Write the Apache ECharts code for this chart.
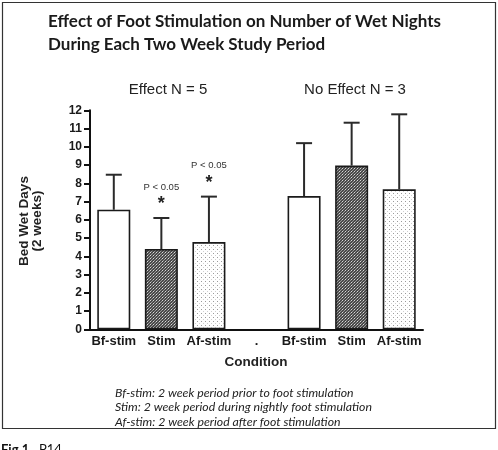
<!DOCTYPE html>
<html><head><meta charset="utf-8">
<script src="https://cdn.jsdelivr.net/npm/echarts@6/dist/echarts.min.js"></script>
<style>html,body{margin:0;padding:0;background:#fff}#c{width:498px;height:450px}</style>
</head><body><div id="c"></div>
<script>
var categories = ['Bf-stim','Stim','Af-stim','.','Bf-stim','Stim','Af-stim'];
var means = [6.55, 4.4, 4.78, null, 7.3, 8.97, 7.67];
var upper = [8.47, 6.1, 7.27, null, 10.2, 11.32, 11.78];
var patterns = ['plain','dark','light',null,'plain','dark','light'];
var annotations = ['', 'P < 0.05', 'P < 0.05', '', '', '', ''];
var yTicks = [0,1,2,3,4,5,6,7,8,9,10,11,12];
var groupLabels = ['Effect N = 5', 'No Effect N = 3'];
var titleLines = ['Effect of Foot Stimulation on Number of Wet Nights', 'During Each Two Week Study Period'];
var footnotes = ['Bf-stim: 2 week period prior to foot stimulation', 'Stim: 2 week period during nightly foot stimulation', 'Af-stim: 2 week period after foot stimulation'];

function makeDark(){
  var c=document.createElement('canvas');c.width=3;c.height=3;var g=c.getContext('2d');
  g.fillStyle='#4a4a4a';g.fillRect(0,0,3,3);
  g.fillStyle='#d8d8d8';g.fillRect(0,0,1,1);
  g.fillStyle='#9a9a9a';g.fillRect(2,1,1,1);g.fillRect(1,2,1,1);
  return c;
}
function makeLight(){
  var c=document.createElement('canvas');c.width=4;c.height=4;var g=c.getContext('2d');
  g.fillStyle='#ffffff';g.fillRect(0,0,4,4);
  g.fillStyle='#9a9a9a';g.fillRect(1,1,1,1);
  g.fillStyle='#d0d0d0';g.fillRect(3,3,1,1);
  return c;
}
var darkC = makeDark(), lightC = makeLight();
function fillFor(p){
  if(p==='dark') return {image: darkC, repeat:'repeat'};
  if(p==='light') return {image: lightC, repeat:'repeat'};
  return '#ffffff';
}
var idx = categories.map(function(_,i){return String(i);});
var barData = means.map(function(v,i){
  return {value: v, itemStyle:{color: fillFor(patterns[i]), borderColor:'#1a1a1a', borderWidth:1.6}};
});
var errData = means.map(function(v,i){ return v==null ? [i,null,null] : [i, v, upper[i]]; });
var annData = annotations.map(function(t,i){ return [i, upper[i]==null?0:upper[i], t]; });

var chart = echarts.init(document.getElementById('c'), null, {renderer:'canvas'});
var txt = '#1a1a1a';
chart.setOption({
  animation:false,
  backgroundColor:'#ffffff',
  grid:{left:90, top:110.3, width:333, height:219},
  xAxis:{type:'category', data: idx,
    axisLine:{lineStyle:{color:'#111', width:2}},
    axisTick:{alignWithLabel:true, interval:0, length:5, lineStyle:{color:'#111', width:2}},
    axisLabel:{interval:0, margin:6, fontFamily:'Liberation Sans', fontWeight:'bold', fontSize:13, color:txt,
      formatter:function(v){return categories[+v];}},
  },
  yAxis:{type:'value', min:0, max:12, interval:1,
    axisLine:{show:true, lineStyle:{color:'#111', width:2}},
    axisTick:{show:true, length:6, lineStyle:{color:'#111', width:2}},
    splitLine:{show:false},
    axisLabel:{margin:8, fontFamily:'Liberation Sans', fontWeight:'bold', fontSize:12, color:txt,
      formatter:function(v){return yTicks.indexOf(v)>=0?String(v):'';}}
  },
  series:[
    {type:'bar', data: barData, barWidth:33, z:2},
    {type:'custom', data: errData, z:3,
      renderItem:function(params, api){
        if(api.value(1)==null || isNaN(api.value(1))) return null;
        var b = api.coord([api.value(0), api.value(1)]);
        var t = api.coord([api.value(0), api.value(2)]);
        var st = {stroke:'#2a2a2a', lineWidth:2};
        return {type:'group', children:[
          {type:'line', shape:{x1:b[0],y1:b[1],x2:t[0],y2:t[1]}, style:st},
          {type:'line', shape:{x1:t[0]-8,y1:t[1],x2:t[0]+8,y2:t[1]}, style:st}
        ]};
      }},
    {type:'custom', data: annData, z:4,
      renderItem:function(params, api){
        var s = annotations[params.dataIndex];
        if(!s) return null;
        var p = api.coord([api.value(0), api.value(1)]);
        return {type:'group', children:[
          {type:'text', x:p[0], y:p[1]-31, style:{text:s, fontFamily:'Liberation Sans', fontSize:9.5, fill:'#333', align:'center', verticalAlign:'middle'}},
          {type:'text', x:p[0], y:p[1]-14, style:{text:'*', fontFamily:'Liberation Sans', fontWeight:'bold', fontSize:18, fill:'#222', align:'center', verticalAlign:'middle'}}
        ]};
      }}
  ],
  graphic:[
    {type:'rect', shape:{x:2.5, y:2.5, width:493, height:426}, style:{fill:null, stroke:'#333', lineWidth:1.2}, z:0},
    {type:'text', x:48, y:22, style:{text:titleLines[0], fontFamily:'Lato', fontWeight:'bold', fontSize:17, fill:'#1a1a1a', verticalAlign:'middle'}},
    {type:'text', x:48, y:45, style:{text:titleLines[1], fontFamily:'Lato', fontWeight:'bold', fontSize:17, fill:'#1a1a1a', verticalAlign:'middle'}},
    {type:'text', x:168, y:90, style:{text:groupLabels[0], fontFamily:'Liberation Sans', fontSize:15, fill:'#222', align:'center', verticalAlign:'middle'}},
    {type:'text', x:355, y:90, style:{text:groupLabels[1], fontFamily:'Liberation Sans', fontSize:15, fill:'#222', align:'center', verticalAlign:'middle'}},
    {type:'text', x:31, y:221, rotation:Math.PI/2, style:{text:'Bed Wet Days\n(2 weeks)', fontFamily:'Liberation Sans', fontWeight:'bold', fontSize:13.5, lineHeight:13, fill:'#222', align:'center', verticalAlign:'middle'}},
    {type:'text', x:256, y:362, style:{text:'Condition', fontFamily:'Liberation Sans', fontWeight:'bold', fontSize:13.5, fill:'#222', align:'center', verticalAlign:'middle'}},
    {type:'text', x:115, y:393, style:{text:footnotes[0], fontFamily:'Lato', fontStyle:'italic', fontSize:12.3, fill:'#222', verticalAlign:'middle'}},
    {type:'text', x:115, y:407.5, style:{text:footnotes[1], fontFamily:'Lato', fontStyle:'italic', fontSize:12.3, fill:'#222', verticalAlign:'middle'}},
    {type:'text', x:115, y:422, style:{text:footnotes[2], fontFamily:'Lato', fontStyle:'italic', fontSize:12.3, fill:'#222', verticalAlign:'middle'}},
    {type:'text', x:1, y:443, style:{text:'{b|Fig 1.}  P14', rich:{b:{fontWeight:'bold', fontFamily:'Lato', fontSize:13, fill:'#111'}}, fontFamily:'Lato', fontSize:13, fill:'#111', verticalAlign:'top'}}
  ]
});
</script></body></html>
